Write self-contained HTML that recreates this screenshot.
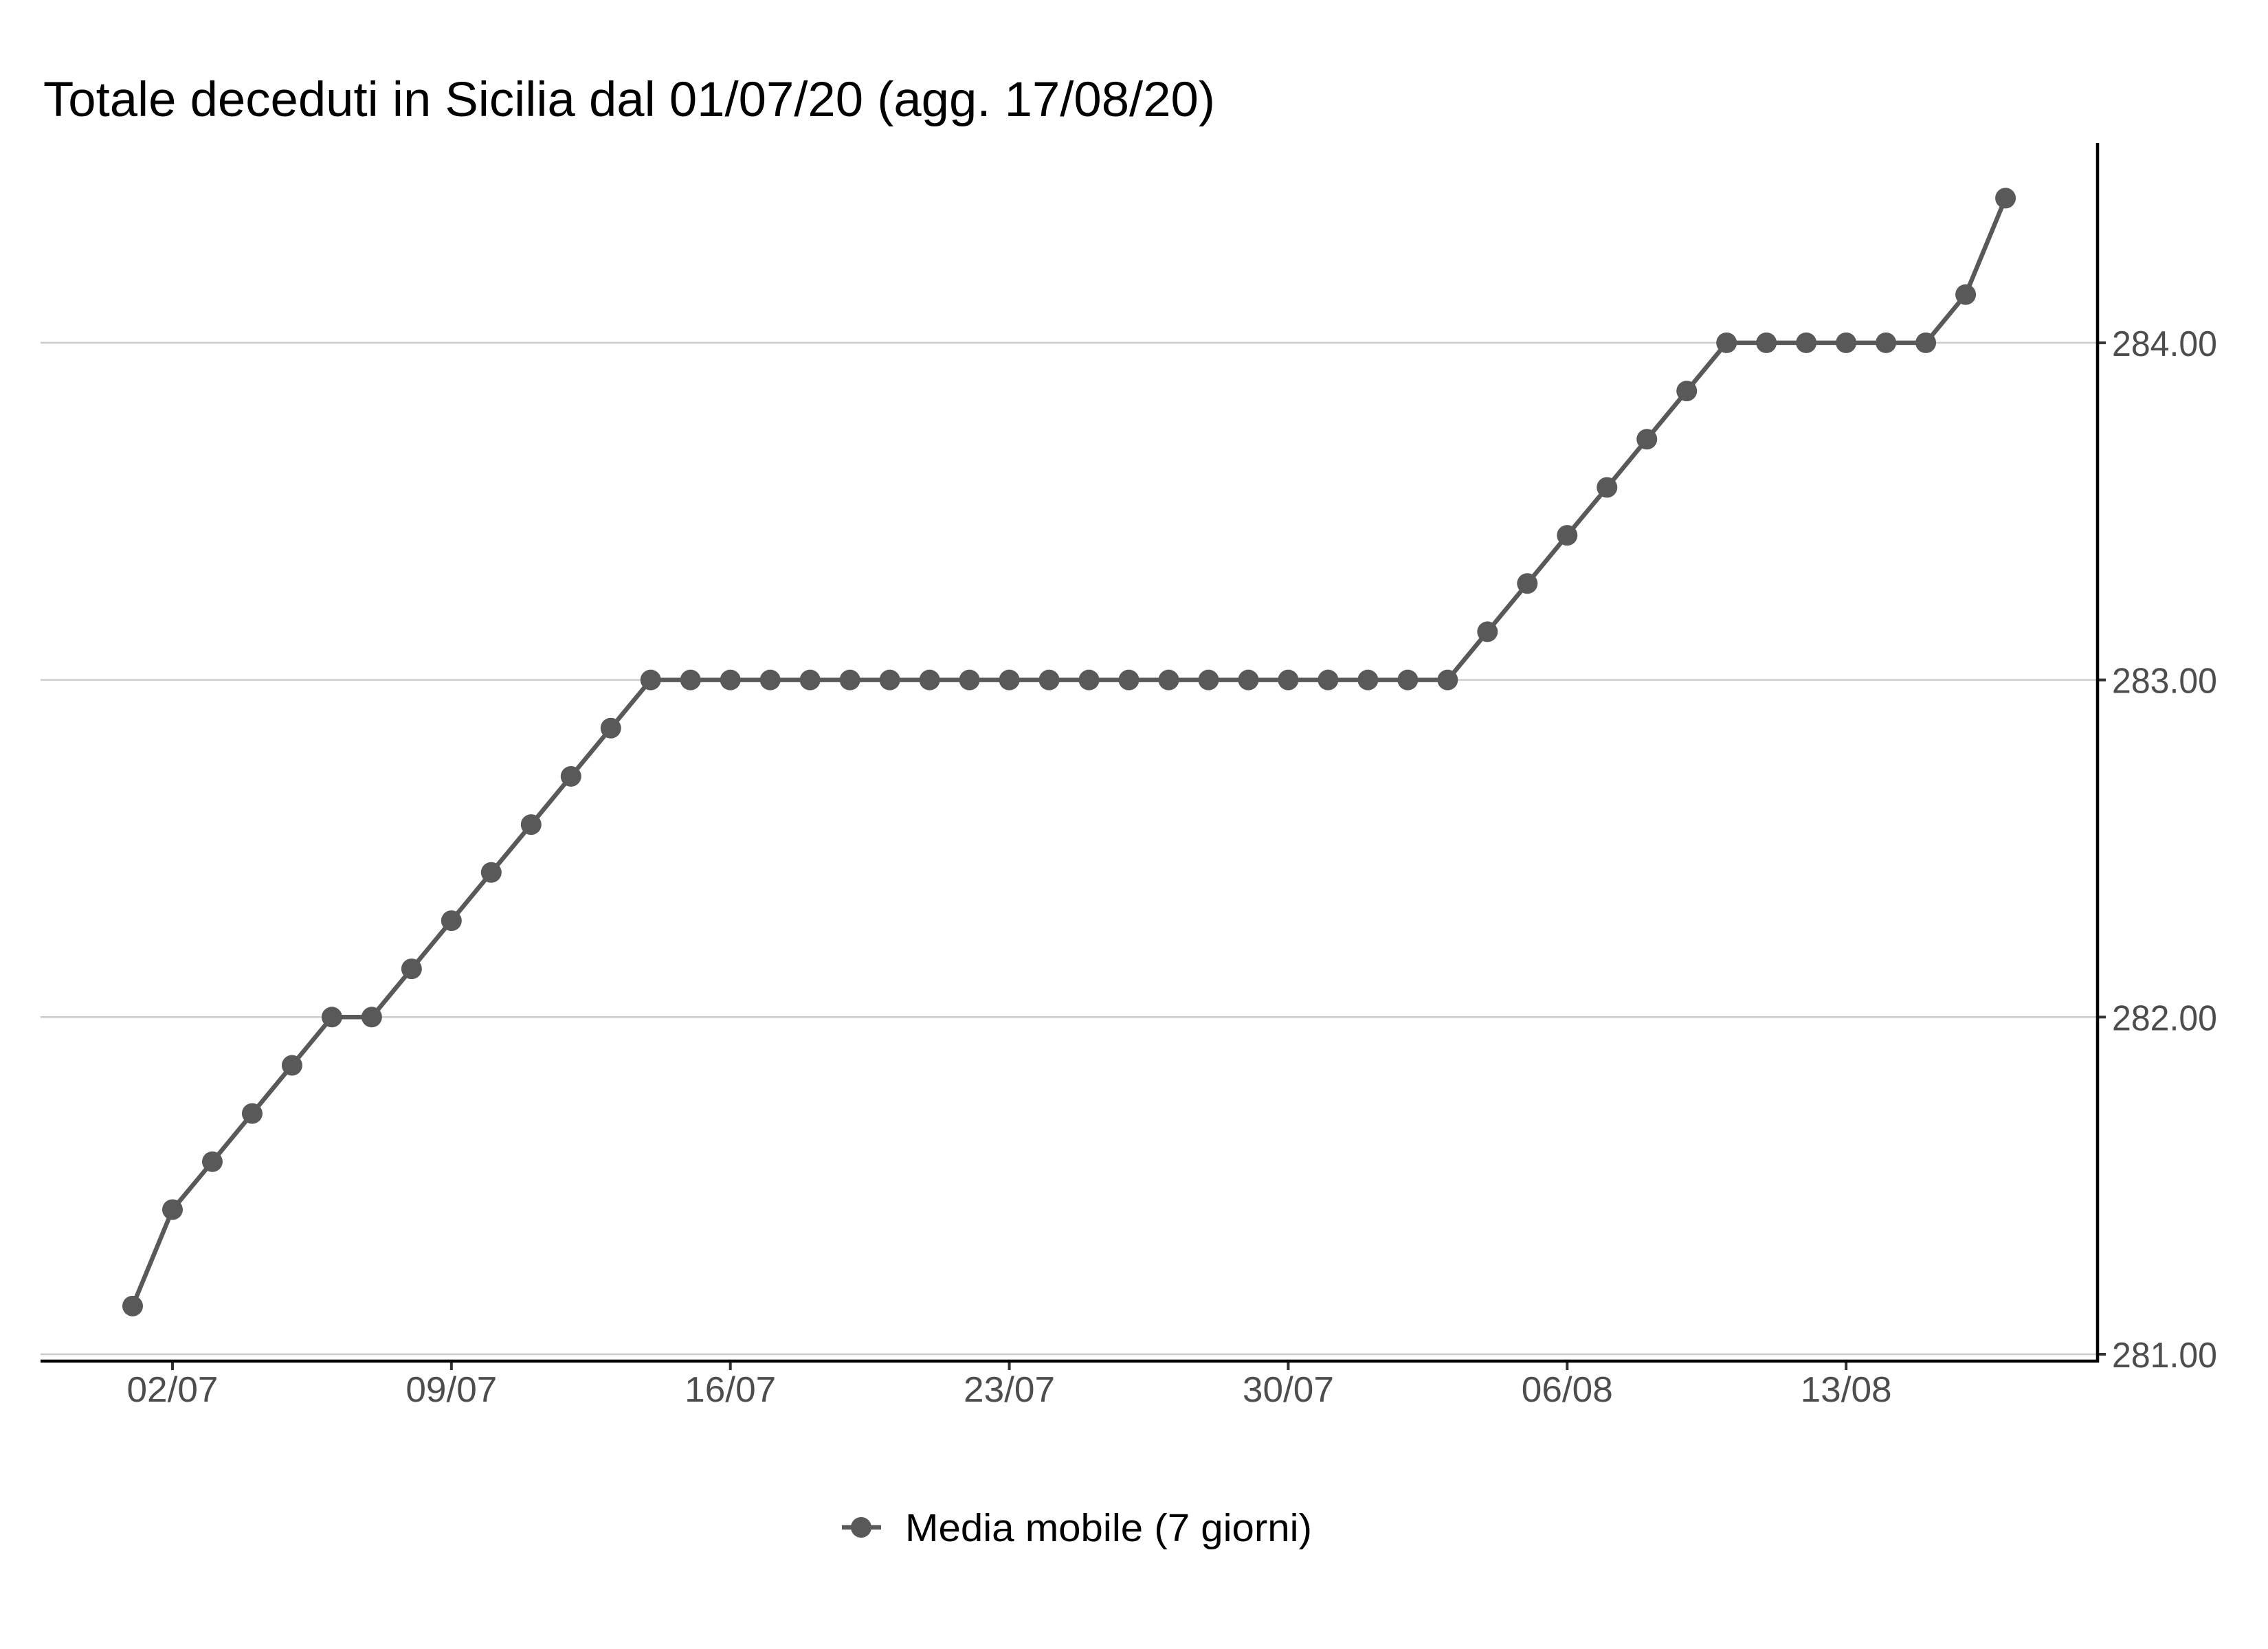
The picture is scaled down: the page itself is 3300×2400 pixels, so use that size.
<!DOCTYPE html>
<html><head><meta charset="utf-8"><style>html,body{margin:0;padding:0;background:#fff}svg{display:block}</style></head>
<body>
<svg id="chart" width="3300" height="2400" viewBox="0 0 3300 2400" xmlns="http://www.w3.org/2000/svg" font-family="'Liberation Sans', sans-serif">
<rect width="3300" height="2400" fill="#fff"/>
<text x="63" y="169" font-size="71" fill="#000" textLength="1705" lengthAdjust="spacingAndGlyphs">Totale deceduti in Sicilia dal 01/07/20 (agg. 17/08/20)</text>
<g id="grid"></g><g id="axes"></g><g id="series"></g>
<g>
<line x1="1225" y1="2223" x2="1282" y2="2223" stroke="#595959" stroke-width="6.5"/>
<circle cx="1253" cy="2223" r="15" fill="#595959"/>
<text x="1317" y="2243" font-size="57" fill="#000" textLength="592" lengthAdjust="spacingAndGlyphs">Media mobile (7 giorni)</text>
</g>
</svg>
<script>
const days = [0,1,2,3,4,5,6,7,8,9,10,11,12,13,14,15,16,17,18,19,20,21,22,23,24,25,26,27,28,29,30,31,32,33,34,35,36,37,38,39,40,41,42,43,44,45,46,47];
const values = [281.143,281.429,281.571,281.714,281.857,282,282,282.143,282.286,282.429,282.571,282.714,282.857,283,283,283,283,283,283,283,283,283,283,283,283,283,283,283,283,283,283,283,283,283,283.143,283.286,283.429,283.571,283.714,283.857,284,284,284,284,284,284,284.143,284.429];
const yTicks = [281,282,283,284];
const yTickLabels = ["281.00","282.00","283.00","284.00"];
const xTickDays = [1,8,15,22,29,36,43];
const xTickLabels = ["02/07","09/07","16/07","23/07","30/07","06/08","13/08"];

const NS = "http://www.w3.org/2000/svg";
const X0 = 193, DX = 57.98;
function xs(d){ return X0 + d*DX; }
function ys(v){ return 1971 - (v-281)*490.7; }
function mk(tag, attrs, parent){ const e=document.createElementNS(NS,tag); for(const k in attrs) e.setAttribute(k,attrs[k]); parent.appendChild(e); return e; }
const grid=document.getElementById('grid'), axes=document.getElementById('axes'), series=document.getElementById('series');
yTicks.forEach((t,i)=>{
  const g=mk('line',{x1:59,x2:3052,y1:ys(t),y2:ys(t),stroke:'#cccccc','stroke-width':2.5},grid);
  
  
  mk('line',{x1:3052,x2:3064,y1:ys(t),y2:ys(t),stroke:'#333','stroke-width':4},axes);
  const tx=mk('text',{x:3073,y:ys(t)+19,'font-size':52,fill:'#4d4d4d',textLength:153,lengthAdjust:'spacingAndGlyphs'},axes);
  tx.textContent=yTickLabels[i];
  
  
});
xTickDays.forEach((d,i)=>{
  mk('line',{x1:xs(d),x2:xs(d),y1:1981,y2:1994,stroke:'#333','stroke-width':4},axes);
  const tx=mk('text',{x:xs(d),y:2040,'font-size':52,fill:'#4d4d4d','text-anchor':'middle',textLength:133,lengthAdjust:'spacingAndGlyphs'},axes);
  tx.textContent=xTickLabels[i];
  
  
});
const xa=mk('line',{x1:59,x2:3054,y1:1981,y2:1981,stroke:'#000','stroke-width':4.5},axes);


const ya=mk('line',{x1:3052,x2:3052,y1:208,y2:1983,stroke:'#000','stroke-width':4.5},axes);


const pts=days.map((d,i)=>xs(d)+','+ys(values[i])).join(' ');
const pl=mk('polyline',{points:pts,fill:'none',stroke:'#595959','stroke-width':6.5,'stroke-linejoin':'round'},series);


days.forEach((d,i)=>{
  const c=mk('circle',{cx:xs(d),cy:ys(values[i]),r:15,fill:'#595959'},series);
  
  
});
</script>
</body></html>
